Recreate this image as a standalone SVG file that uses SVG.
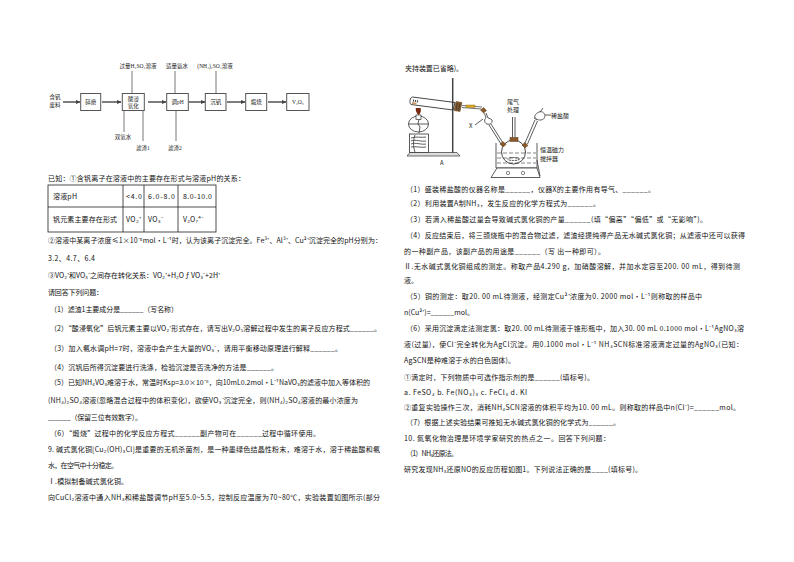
<svg xmlns="http://www.w3.org/2000/svg" width="794" height="562" viewBox="0 0 794 562">
<style>
text{font-family:"Noto Sans CJK SC","Liberation Sans",sans-serif;font-size:7px;fill:#111}
.f{font-family:"Liberation Serif","Noto Sans CJK SC",serif;font-size:5.5px;fill:#222;text-anchor:middle}
.a{font-size:6px;fill:#222}
.n{fill:#fff;stroke:#555;stroke-width:1}
.c{fill:none;stroke:#555;stroke-width:.8}
.d{fill:none;stroke:#666;stroke-width:1.7}
.l{fill:none;stroke:#333;stroke-width:.8}
.b{fill:#8a5a2b;stroke:#5a3a1a;stroke-width:.5}
.s{font-size:4.5px}
</style>
<defs>
<marker id="ar" markerWidth="5" markerHeight="5" refX="4" refY="2.5" orient="auto" markerUnits="userSpaceOnUse"><path d="M0 0.5L4.5 2.5L0 4.5z" fill="#444"/></marker>
</defs>
<rect width="794" height="562" fill="#fff"/>

<g id="connectors">
<path class="d" d="M63 102H80" marker-end="url(#ar)"/>
<path class="d" d="M102 102H121" marker-end="url(#ar)"/>
<path class="d" d="M148 102H166" marker-end="url(#ar)"/>
<path class="d" d="M189 102H205" marker-end="url(#ar)"/>
<path class="d" d="M227 102H245" marker-end="url(#ar)"/>
<path class="d" d="M268 102H286" marker-end="url(#ar)"/>
<path class="c" d="M132 71V93"/>
<path class="c" d="M175 71V93"/>
<path class="c" d="M216 71V93"/>
<path class="c" d="M124 132V111"/>
<path class="c" d="M143 111V141"/>
<path class="c" d="M176 111V141"/>
</g>

<g id="node-feed"><text class="f" x="55" y="98.500">含钒</text><text class="f" x="55" y="106.500">废料</text></g>
<g id="node-grind"><rect class="n" x="80.700" y="93.500" width="20" height="17"/><text class="f" x="90.700" y="104">碎磨</text></g>
<g id="node-leach"><rect class="n" x="122.300" y="93.500" width="22" height="17"/><text class="f" x="133.300" y="100.500">酸浸</text><text class="f" x="133.300" y="107.500">氧化</text></g>
<g id="node-ph"><rect class="n" x="166.700" y="93.500" width="21.600" height="17"/><text class="f" x="177.500" y="104">调pH</text></g>
<g id="node-precip"><rect class="n" x="205.300" y="93.500" width="20.700" height="17"/><text class="f" x="215.700" y="104">沉钒</text></g>
<g id="node-calcine"><rect class="n" x="245.700" y="93.500" width="21" height="17"/><text class="f" x="256.200" y="104">煅烧</text></g>
<g id="node-product"><rect class="n" x="286.700" y="93.500" width="22.300" height="17"/><text class="f" x="297.800" y="104">V₂O₅</text></g>
<g id="node-acid"><text class="f" x="138" y="68">过量H₂SO₄溶液</text></g>
<g id="node-ammonia"><text class="f" x="177" y="68">适量氨水</text></g>
<g id="node-ammonium"><text class="f" x="215" y="68">(NH₄)₂SO₄溶液</text></g>
<g id="node-peroxide"><text class="f" x="123" y="139">双氧水</text></g>
<g id="node-residue1"><text class="f" x="143" y="150">滤渣1</text></g>
<g id="node-residue2"><text class="f" x="175" y="150">滤渣2</text></g>

<text x="48" y="180.800" textLength="197">已知：①含钒离子在溶液中的主要存在形式与溶液pH的关系：</text>
<g fill="none" stroke="#222" stroke-width=".8">
<rect x="48" y="185" width="168" height="47"/>
<path d="M48 207H216M123 185V232M144 185V232M178 185V232"/>
</g>
<text x="53" y="198.800" textLength="24">溶液pH</text>
<text x="126" y="198.800" textLength="16">&lt;4.0</text>
<text x="148" y="198.800" textLength="27">6.0-8.0</text>
<text x="183" y="198.800" textLength="29">8.0-10.0</text>
<text x="53" y="221.800" textLength="64">钒元素主要存在形式</text>
<text x="126" y="221.800" textLength="15">VO₂⁺</text>
<text x="148" y="221.800" textLength="15">VO₃⁻</text>
<text x="183" y="221.800" textLength="20">V₂O₇⁴⁻</text>

<text x="48" y="242.800" textLength="334">②溶液中某离子浓度≤1×10⁻⁵mol·L⁻¹时，认为该离子沉淀完全。Fe³⁺、Al³⁺、Cu²⁺沉淀完全的pH分别为：</text>
<text x="48" y="260.800" textLength="47">3.2、4.7、6.4</text>
<text x="48" y="277.800" textLength="172">③VO₂⁺和VO₃⁻之间存在转化关系：VO₂⁺+H₂O ƒ  VO₃⁻+2H⁺</text>
<text x="48" y="294.800" textLength="55">请回答下列问题：</text>
<text x="50" y="311.800" textLength="128">（1）滤渣1主要成分是______（写名称）</text>
<text x="50" y="330.800" textLength="331">（2）“酸浸氧化”后钒元素主要以VO₂⁺形式存在，请写出V₂O₅溶解过程中发生的离子反应方程式______。</text>
<text x="50" y="350.800" textLength="292">（3）加入氨水调pH=7时，溶液中会产生大量的VO₃⁻，请用平衡移动原理进行解释______。</text>
<text x="50" y="369.800" textLength="228">（4）沉钒后所得沉淀要进行洗涤，检验沉淀是否洗净的方法是______。</text>
<text x="50" y="384.800" textLength="320">（5）已知NH₄VO₃难溶于水，常温时Ksp=3.0×10⁻⁸，向10mL0.2mol·L⁻¹NaVO₃的滤液中加入等体积的</text>
<text x="48" y="402.800" textLength="310">(NH₄)₂SO₄溶液(忽略混合过程中的体积变化)，欲使VO₃⁻沉淀完全，则(NH₄)₂SO₄溶液的最小浓度为</text>
<text x="48" y="419.800" textLength="94">______（保留三位有效数字）。</text>
<text x="50" y="435.800" textLength="270">（6）“煅烧”过程中的化学反应方程式______副产物可在______过程中循环使用。</text>
<text x="48" y="451.800" textLength="332">9. 碱式氯化铜[Cu₂(OH)₃Cl]是重要的无机杀菌剂，是一种墨绿色结晶性粉末，难溶于水，溶于稀盐酸和氨</text>
<text x="48" y="467.800" textLength="70">水，在空气中十分稳定。</text>
<text x="48" y="483.800" textLength="80">Ⅰ.模拟制备碱式氯化铜。</text>
<text x="48" y="499.800" textLength="332">向CuCl₂溶液中通入NH₃和稀盐酸调节pH至5.0~5.5，控制反应温度为70~80℃，实验装置如图所示(部分</text>

<text x="405" y="70.800" textLength="58">夹持装置已省略)。</text>

<path d="M452.700 78V153" stroke="#444" stroke-width="1.500" fill="none"/>
<path d="M407 156L410 152.500H457L460 156z" fill="#ddd" stroke="#333" stroke-width=".7"/>
<rect x="409.500" y="134" width="19" height="18.500" fill="#fff" stroke="#333" stroke-width=".8"/>
<path class="l" d="M411 138c5-2 10 0 15-1M411 141c5-2 10 1 15 0M411 144c5-2 10 1 15 0M411 147c5-1 10 1 15 0M415 135c-2 5-2 12 0 17"/>
<ellipse cx="418.500" cy="124" rx="10" ry="8" fill="#fff" stroke="#333" stroke-width=".8"/>
<path class="l" d="M408.500 124H428.500M419 119l-1 5 2 3-1 6"/>
<rect x="416" y="115" width="5" height="4.500" fill="#fff" stroke="#333" stroke-width=".7"/>
<path d="M416 108c-1 2 1 6 2.500 7 2-1 3-5 2-7z" fill="#7a2a10"/>
<path d="M411 104.500c-2-2-1-7 1.500-7.500L455 102.500 453 110z" fill="none" stroke="#333" stroke-width=".9"/>
<path d="M413 100.500l6 1.200" stroke="#333" stroke-width="2" stroke-dasharray="1 1"/>
<path d="M412 103l4.500 .8" stroke="#c96" stroke-width="2"/>
<path class="b" d="M456 101.500l6 1-2 9-6-1z"/>
<path class="l" d="M457.500 103l-1.500 7M460 103.500l-1.500 7"/>
<path d="M462 105.500L482 107M462 107.500L481 109" stroke="#333" stroke-width=".7" fill="none"/>
<rect x="466" y="105" width="9" height="2.500" fill="#d9a520" stroke="#8a6a10" stroke-width=".4"/>
<path class="b" d="M480.500 110l3-2.500 3 3-3 2.500z"/>
<path class="l" d="M484 113c1 2 2 4 2 5-2 1-2 5 1 6 3 1 6-1 5-4-1-1-3-2-4-2l-2-5"/>
<path d="M491 124L503 143M489 125L501 144" class="l"/>
<path class="l" d="M475 125l8-6"/>
<path class="l" d="M496 143V168H537V143"/>
<path d="M497 153H536M497 158H536M497 163H536" stroke="#333" stroke-width=".6" stroke-dasharray="4 2" fill="none"/>
<circle cx="513.500" cy="152" r="12" fill="none" stroke="#333" stroke-width=".9"/>
<ellipse cx="513.500" cy="159" rx="6" ry="1.500" fill="none" stroke="#222" stroke-width=".9" stroke-dasharray="2 1"/>
<path class="b" d="M500 144l3-2.500 3 3-3 2.500z"/>
<path class="b" d="M522 145l3-2.500 3 3-3 2.500z"/>
<rect class="b" x="510" y="137.500" width="8" height="4"/>
<path class="l" d="M512.500 117V137.500M515 117V137.500"/>
<path class="l" d="M525 143L535 120M527.500 144L537.500 121"/>
<path class="l" d="M534.500 117c1-4 5-6 8-5 3 2 3 5 1 7-3 2-7 1-9-2zM540 112l3-4M534 118l3 2"/>
<path class="l" d="M545 115H551"/>
<path d="M497 168L491 177.500H540L537 168z" fill="#fff" stroke="#333" stroke-width=".8"/>
<circle cx="508" cy="173" r="1.700" fill="#fff" stroke="#333" stroke-width=".6"/>
<circle cx="523" cy="173" r="1.700" fill="#fff" stroke="#333" stroke-width=".6"/>
<path class="l" d="M537 160l3 16"/>
<text class="a" x="507" y="104">尾气</text>
<text class="a" x="507" y="112">处理</text>
<text class="a" x="551" y="117.500">稀盐酸</text>
<text class="a" x="540" y="151.500">恒温磁力</text>
<text class="a" x="540" y="160.500">搅拌器</text>
<text class="a" x="440" y="164.500">A</text>
<text class="a" x="469" y="128">X</text>

<text x="406" y="191.800" textLength="249">（1）盛装稀盐酸的仪器名称是______，仪器X的主要作用有导气、______。</text>
<text x="406" y="205.800" textLength="194">（2）利用装置A制NH₃，发生反应的化学方程式为______。</text>
<text x="406" y="221.800" textLength="301">（3）若滴入稀盐酸过量会导致碱式氯化铜的产量______(填“偏高”“偏低”或“无影响”)。</text>
<text x="406" y="237.800" textLength="339">（4）反应结束后，将三颈烧瓶中的混合物过滤，滤渣经提纯得产品无水碱式氯化铜；从滤液中还可以获得</text>
<text x="404" y="253.800" textLength="201">的一种副产品，该副产品的用途是______（写 出一种即可）。</text>
<text x="404" y="268.800" textLength="336">Ⅱ.无水碱式氯化铜组成的测定。称取产品4.290 g，加硝酸溶解，并加水定容至200. 00 mL，得到待测</text>
<text x="404" y="282.800">液。</text>
<text x="406" y="298.800" textLength="296">（5）铜的测定：取20. 00 mL待测液，经测定Cu²⁺浓度为0. 2000 mol·L⁻¹则称取的样品中</text>
<text x="404" y="314.800" textLength="70">n(Cu²⁺)=______mol。</text>
<text x="406" y="330.800" textLength="338">（6）采用沉淀滴定法测定氯：取20. 00 mL待测液于锥形瓶中，加入30. 00 mL 0.1000 mol·L⁻¹AgNO₃溶</text>
<text x="404" y="346.800" textLength="339">液(过量)，使Cl⁻完全转化为AgCl沉淀。用0.1000 mol·L⁻¹ NH₄SCN标准溶液滴定过量的AgNO₃(已知：</text>
<text x="404" y="362.800" textLength="111">AgSCN是种难溶于水的白色固体)。</text>
<text x="404" y="379.800" textLength="190">①滴定时，下列物质中可选作指示剂的是______(填标号)。</text>
<text x="404" y="394.800" textLength="123">a. FeSO₄ b. Fe(NO₃)₃ c. FeCl₃ d. KI</text>
<text x="404" y="409.800" textLength="336">②重复实验操作三次，消耗NH₄SCN溶液的体积平均为10. 00 mL。则称取的样品中n(Cl⁻)=______mol。</text>
<text x="406" y="424.800" textLength="214">（7）根据上述实验结果可推知无水碱式氯化铜的化学式为______。</text>
<text x="404" y="440.800" textLength="206">10. 氮氧化物治理是环境学家研究的热点之一。回答下列问题：</text>
<text x="406" y="455.800" textLength="52">（1）NH₃还原法。</text>
<text x="404" y="471.800" textLength="238">研究发现NH₃还原NO的反应历程如图1。下列说法正确的是____(填标号)。</text>
</svg>
